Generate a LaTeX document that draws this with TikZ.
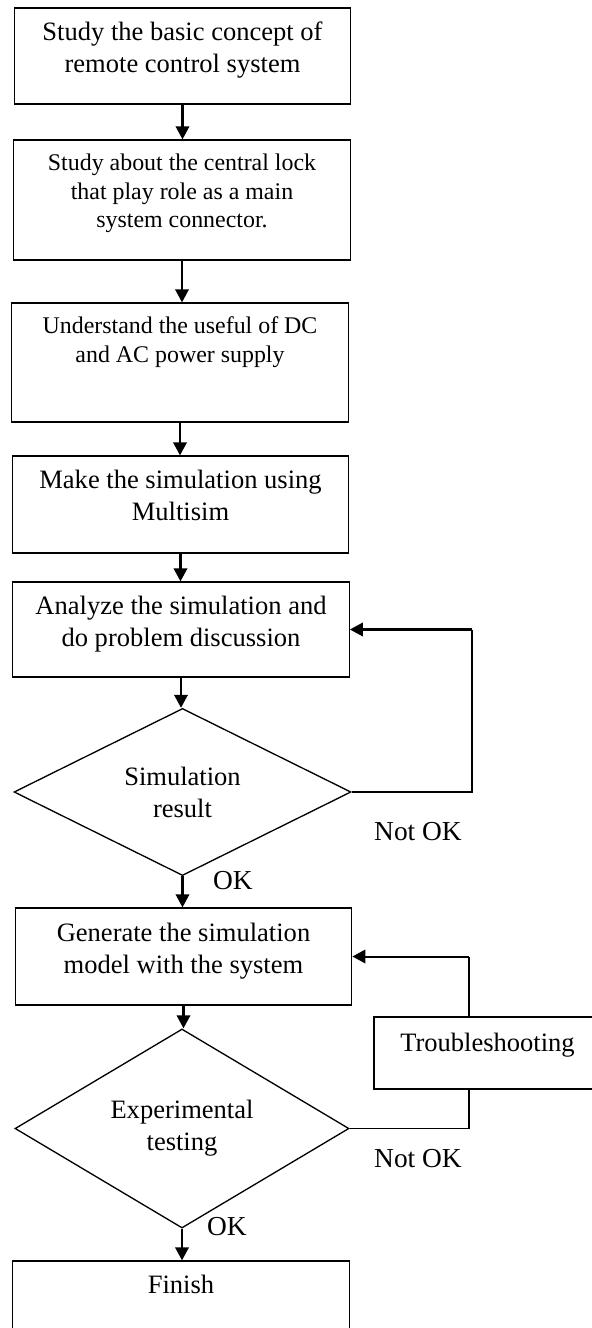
\documentclass[tikz,border=0pt]{standalone}
\usepackage{fontspec}
\setmainfont{Liberation Serif}
\usetikzlibrary{arrows.meta, positioning, shapes.geometric, calc}
\tikzset{
  every picture/.style={line width=0.75pt},
  stage/.style={draw, rectangle, align=center, inner sep=0pt, minimum width=6.73cm,
    minimum height=#1, text depth=0.36cm, font=\fontsize{15.1}{18.2}\selectfont},
  stage/.default=1.92cm,
  smalltext/.style={font=\fontsize{13.6}{16.2}\selectfont},
  decision/.style={draw, diamond, align=center, inner sep=0pt, font=\fontsize{15.1}{18.2}\selectfont},
  arrow/.style={-{Triangle[length=0.26cm, width=0.27cm]}, line width=1.15pt},
  note/.style={font=\fontsize{15.6}{18.2}\selectfont},
}

\begin{document}
\begin{tikzpicture}
  \useasboundingbox (0,0) rectangle (11.82,-26.56);
  % main column
  \node[stage=1.92cm] (study) at (3.65,-1.12) {Study the basic concept of\\remote control system};
  \node[stage=2.4cm, smalltext, text depth=0.37cm] (lock) at (3.64,-4.0)
    {Study about the central lock\\that play role as a main\\system connector.};
  \node[stage=2.38cm, smalltext, text depth=0.91cm] (power) at (3.60,-7.25)
    {Understand the useful of DC\\and AC power supply};
  \node[stage=1.94cm, text depth=0.38cm] (multisim) at (3.61,-10.09) {Make the simulation using\\Multisim};
  \node[stage=1.9cm, text depth=0.34cm] (analyze) at (3.62,-12.59) {Analyze the simulation and\\do problem discussion};
  \node[decision, minimum width=6.74cm, minimum height=2.6cm] (simres) at (3.65,-15.84) {Simulation\\result};
  \node[stage=1.94cm, text depth=0.34cm] (model) at (3.67,-19.13) {Generate the simulation\\model with the system};
  \node[decision, minimum width=6.68cm, minimum height=2.86cm] (exptest) at (3.64,-22.57) {Experimental\\testing};
  \node[stage=1.68cm, text depth=0.76cm] (finish) at (3.62,-26.06) {Finish};
  % side box
  \node[stage=1.44cm, minimum width=4.54cm, text depth=0.44cm] (trouble) at (9.75,-21.06) {Troubleshooting};

  \draw[arrow] (study.south) -- (study.south |- lock.north);
  \draw[arrow] (lock.south) -- (lock.south |- power.north);
  \draw[arrow] (power.south) -- (power.south |- multisim.north);
  \draw[arrow] (multisim.south) -- (multisim.south |- analyze.north);
  \draw[arrow] (analyze.south) -- (analyze.south |- simres.north);
  \draw[arrow] (simres.south) -- (simres.south |- model.north);
  \draw[arrow] (model.south) -- (model.south |- exptest.north);
  \draw[arrow] (exptest.south) -- (exptest.south |- finish.north);

  % loops back
  \coordinate (loopa) at (9.44,0);
  \coordinate (loopb) at (9.38,0);
  \draw (simres.east) -| (loopa |- analyze.east);
  \draw[arrow] (loopa |- analyze.east) -- (analyze.east);
  \draw (exptest.east) -| (loopb |- trouble.south);
  \draw (loopb |- trouble.north) -- (loopb |- model.east);
  \draw[arrow] (loopb |- model.east) -- (model.east);

  \node[note] (ok1) at (4.66,-17.62) {OK};
  \node[note] (notok1) at (8.36,-16.64) {Not OK};
  \node[note] (ok2) at (4.54,-24.54) {OK};
  \node[note] (notok2) at (8.36,-23.18) {Not OK};
\end{tikzpicture}
\end{document}
